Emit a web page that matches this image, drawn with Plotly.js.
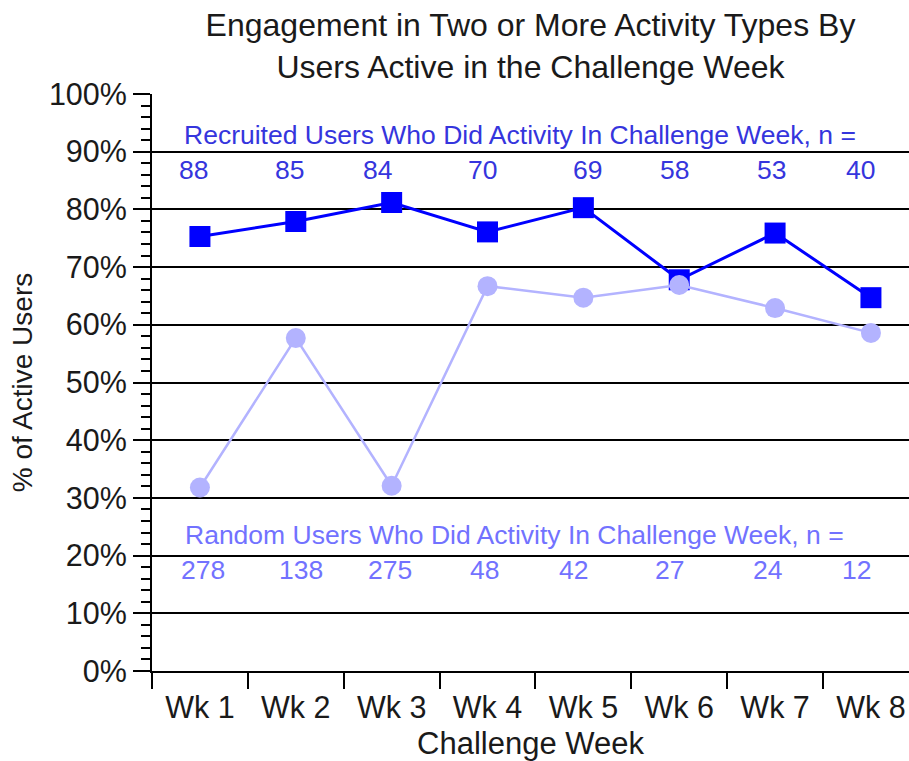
<!DOCTYPE html>
<html>
<head>
<meta charset="utf-8">
<script src="https://cdn.plot.ly/plotly-3.0.1.min.js"></script>
<style>html,body{margin:0;padding:0;background:#fff;}#chart{width:909px;height:761px;}</style>
</head>
<body>
<div id="chart"></div>
<script>
const weeks = ["Wk 1", "Wk 2", "Wk 3", "Wk 4", "Wk 5", "Wk 6", "Wk 7", "Wk 8"];
const recruitedPct = [75.3, 77.9, 81.2, 76.1, 80.3, 67.8, 75.9, 64.7];
const randomPct = [31.8, 57.7, 32.1, 66.7, 64.7, 66.9, 62.9, 58.6];
const recruitedN = [88, 85, 84, 70, 69, 58, 53, 40];
const randomN = [278, 138, 275, 48, 42, 27, 24, 12];
const recruitedLabel = "Recruited Users Who Did Activity In Challenge Week, n =";
const randomLabel = "Random Users Who Did Activity In Challenge Week, n =";
const titleText = "Engagement in Two or More Activity Types By<br>Users Active in the Challenge Week";

// label nudges (pixels) for the n = count labels, as laid out in the original
const recNShift = [-6, -6, -14, -5, 4, -5, -4, -10];
const rndNShift = [3, 5, -2, -3, -10, -10, -8, -14];

const FONT = "Liberation Sans, Arial, sans-serif";
const recColor = "#0000ff";
const rndColor = "#b3b3ff";
const recText = "#3535dd";
const rndText = "#7272ff";

const traces = [
  {
    x: weeks, y: recruitedPct, type: "scatter", mode: "lines+markers",
    name: "Recruited",
    line: {color: recColor, width: 3},
    marker: {symbol: "square", size: 21, color: recColor},
    hoverinfo: "x+y"
  },
  {
    x: weeks, y: randomPct, type: "scatter", mode: "lines+markers",
    name: "Random",
    line: {color: rndColor, width: 2.5},
    marker: {symbol: "circle", size: 20, color: rndColor},
    hoverinfo: "x+y"
  }
];

const annotations = [
  {text: recruitedLabel, xref: "paper", yref: "paper", x: 0.0396, y: 0.929, xanchor: "left", yanchor: "middle",
   showarrow: false, font: {family: FONT, size: 26.5, color: recText}},
  {text: randomLabel, xref: "paper", yref: "paper", x: 0.041, y: 0.236, xanchor: "left", yanchor: "middle",
   showarrow: false, font: {family: FONT, size: 26.5, color: rndText}}
];
weeks.forEach((w, i) => {
  annotations.push({text: String(recruitedN[i]), xref: "x", yref: "paper", x: w, y: 0.869,
    xanchor: "center", yanchor: "middle", xshift: recNShift[i], showarrow: false,
    font: {family: FONT, size: 26.5, color: recText}});
  annotations.push({text: String(randomN[i]), xref: "x", yref: "paper", x: w, y: 0.175,
    xanchor: "center", yanchor: "middle", xshift: rndNShift[i], showarrow: false,
    font: {family: FONT, size: 26.5, color: rndText}});
});

const layout = {
  width: 909, height: 761,
  margin: {l: 152, r: 0, t: 94, b: 90, pad: 0},
  paper_bgcolor: "#fff", plot_bgcolor: "#fff",
  showlegend: false,
  font: {family: FONT, color: "#1a1a1a"},
  title: {text: titleText, xref: "paper", x: 0.5, xanchor: "center", yref: "container", y: 1 - 36/761, yanchor: "middle",
          font: {family: FONT, size: 32, color: "#1a1a1a"}},
  xaxis: {
    type: "category", range: [-0.5, 7.397], tickson: "boundaries",
    ticks: "outside", ticklen: 16, tickwidth: 2, tickcolor: "#000",
    ticklabelstandoff: 8,
    showline: true, linecolor: "#000", linewidth: 2,
    showgrid: false, zeroline: false,
    tickfont: {family: FONT, size: 30.5, color: "#1a1a1a"},
    title: {text: "Challenge Week", font: {family: FONT, size: 31, color: "#1a1a1a"}, standoff: 10},
    automargin: false, fixedrange: true
  },
  yaxis: {
    range: [0, 100], tickmode: "linear", tick0: 0, dtick: 10, ticksuffix: "%",
    ticks: "outside", ticklen: 17, tickwidth: 2, tickcolor: "#000",
    minor: {dtick: 2, ticks: "outside", ticklen: 9, tickwidth: 2, tickcolor: "#000", showgrid: false},
    showline: true, linecolor: "#000", linewidth: 2,
    showgrid: true, gridcolor: "#000", gridwidth: 2, zeroline: false,
    tickfont: {family: FONT, size: 30.5, color: "#1a1a1a"},
    title: {text: "% of Active Users", font: {family: FONT, size: 28, color: "#1a1a1a"}, standoff: 8},
    automargin: false, fixedrange: true
  },
  annotations: annotations
};

Plotly.newPlot("chart", traces, layout, {displayModeBar: false, staticPlot: true});
</script>
</body>
</html>
